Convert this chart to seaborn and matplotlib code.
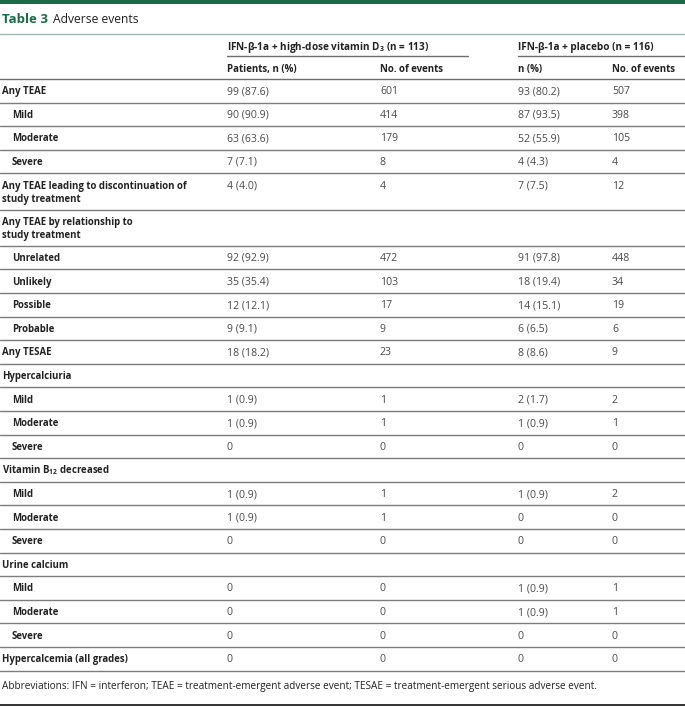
import matplotlib
matplotlib.use("Agg")
import matplotlib.pyplot as plt
import seaborn as sns

# Table content
row_labels = [
    "Any TEAE", "Mild", "Moderate", "Severe",
    "Any TEAE leading to discontinuation of\nstudy treatment",
    "Any TEAE by relationship to\nstudy treatment",
    "Unrelated", "Unlikely", "Possible", "Probable",
    "Any TESAE",
    "Hypercalciuria", "Mild", "Moderate", "Severe",
    "Vitamin B$_{\\mathbf{12}}$ decreased", "Mild", "Moderate", "Severe",
    "Urine calcium", "Mild", "Moderate", "Severe",
    "Hypercalcemia (all grades)",
]
row_indent = [0, 1, 1, 1, 0, 0, 1, 1, 1, 1, 0, 0, 1, 1, 1, 0, 1, 1, 1, 0, 1, 1, 1, 0]
vitd_patients = ["99 (87.6)", "90 (90.9)", "63 (63.6)", "7 (7.1)", "4 (4.0)", "",
                 "92 (92.9)", "35 (35.4)", "12 (12.1)", "9 (9.1)", "18 (18.2)",
                 "", "1 (0.9)", "1 (0.9)", "0", "", "1 (0.9)", "1 (0.9)", "0",
                 "", "0", "0", "0", "0"]
vitd_events = ["601", "414", "179", "8", "4", "",
               "472", "103", "17", "9", "23",
               "", "1", "1", "0", "", "1", "1", "0",
               "", "0", "0", "0", "0"]
plac_patients = ["93 (80.2)", "87 (93.5)", "52 (55.9)", "4 (4.3)", "7 (7.5)", "",
                 "91 (97.8)", "18 (19.4)", "14 (15.1)", "6 (6.5)", "8 (8.6)",
                 "", "2 (1.7)", "1 (0.9)", "0", "", "1 (0.9)", "0", "0",
                 "", "1 (0.9)", "1 (0.9)", "0", "0"]
plac_events = ["507", "398", "105", "4", "12", "",
               "448", "34", "19", "6", "9",
               "", "2", "1", "0", "", "2", "0", "0",
               "", "1", "1", "0", "0"]

group_headers = ["IFN-β-1a + high-dose vitamin D$_{\\mathbf{3}}$ (n = 113)",
                 "IFN-β-1a + placebo (n = 116)"]
col_headers = ["Patients, n (%)", "No. of events", "n (%)", "No. of events"]
footnote = ("Abbreviations: IFN = interferon; TEAE = treatment-emergent adverse event; "
            "TESAE = treatment-emergent serious adverse event.")

sns.set_theme(style="white")
plt.rcParams["font.family"] = ["Open Sans", "DejaVu Sans"]
plt.rcParams["mathtext.fontset"] = "custom"
plt.rcParams["mathtext.rm"] = "Open Sans"
plt.rcParams["mathtext.bf"] = "Open Sans:bold"

green = "#1d6a4b"
dark = "#222222"
num_col = "#4a4a4a"
line_col = "#7d7d7d"
fs = 6.9

W, H = 685, 707
fig = plt.figure(figsize=(6.85, 7.07), dpi=100)
ax = fig.add_axes([0, 0, 1, 1])
ax.set_xlim(0, W)
ax.set_ylim(H, 0)
ax.axis("off")

# top band + title
ax.axhspan(0, 3.5, color=green, lw=0)
ax.text(2, 23, "Table 3", fontsize=9.5, fontweight="bold", color=green, va="baseline")
ax.text(53, 23, "Adverse events", fontsize=8.7, color=dark, va="baseline")
ax.axhline(34, color="#9db8ae", lw=1.0)

col_x = [227, 380, 518, 612]

# headers
ax.text(col_x[0], 50, group_headers[0], fontsize=7.2, fontweight="bold", color=dark, va="baseline")
ax.text(col_x[2], 50, group_headers[1], fontsize=7.2, fontweight="bold", color=dark, va="baseline")
ax.plot([col_x[0], 468], [56, 56], color="#6e6e6e", lw=1.0)
ax.plot([col_x[2], W], [56, 56], color="#6e6e6e", lw=1.0)
for x, h in zip(col_x, col_headers):
    ax.text(x, 72, h, fontsize=7.0, fontweight="bold", color=dark, va="baseline")
ax.axhline(79, color="#6e6e6e", lw=1.0)

# body rows
y = 79.0
for i, lab in enumerate(row_labels):
    lines = lab.split("\n")
    h = 23.6 if len(lines) == 1 else 36.2
    base = y + 15.2
    x0 = 12 if row_indent[i] else 2
    for k, ln in enumerate(lines):
        ax.text(x0, base + 13 * k, ln, fontsize=fs, fontweight="bold", color=dark, va="baseline")
    for x, col in zip(col_x, [vitd_patients, vitd_events, plac_patients, plac_events]):
        ax.text(x, base, col[i], fontsize=7.6, color=num_col, va="baseline")
    y += h
    ax.axhline(y, color=line_col, lw=1.0)

ax.text(2, 689, footnote, fontsize=7.2, color=dark, va="baseline")
ax.axhline(705, color="#333333", lw=1.4)

fig.savefig("out.png", dpi=100)
